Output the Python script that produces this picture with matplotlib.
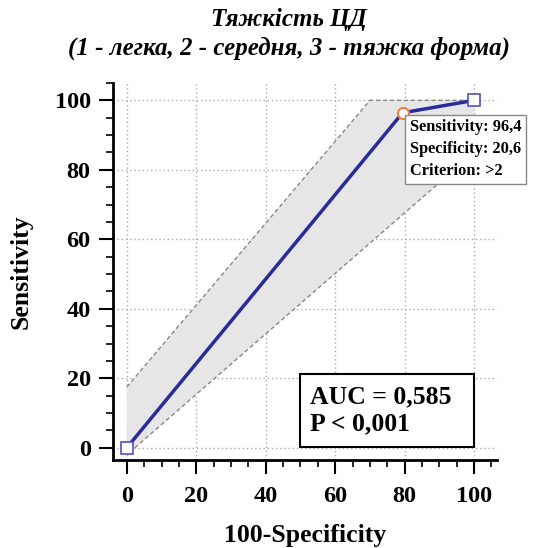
import matplotlib
matplotlib.use('Agg')
import matplotlib.pyplot as plt
from matplotlib.patches import Rectangle
from matplotlib.ticker import MultipleLocator

plt.rcParams['font.family'] = ['Liberation Serif', 'DejaVu Serif']
plt.rcParams['font.weight'] = 'bold'

# ROC curve points (100-Specificity, Sensitivity)
roc_x = [0, 79.4, 100]
roc_y = [0, 96.4, 100]

# 95% confidence band
upper_x = [0, 70, 100]
upper_y = [17.5, 100, 100]
lower_x = [2.3, 100]
lower_y = [0, 85]

title = 'Тяжкість ЦД\n(1 - легка, 2 - середня, 3 - тяжка форма)'
info = 'Sensitivity: 96,4\nSpecificity: 20,6\nCriterion: >2'
auc_text = 'AUC = 0,585\nP < 0,001'

fig = plt.figure(figsize=(5.35, 5.48), dpi=100)
ax = fig.add_axes([0.211, 0.1606, 0.718, 0.688])

# band polygon
poly_x = upper_x + lower_x[::-1] + [0]
poly_y = upper_y + lower_y[::-1] + [0]
ax.fill(poly_x, poly_y, color='#e6e6e6', zorder=1, lw=0)
ax.plot(upper_x, upper_y, ls=(0, (3, 2)), color='#888888', lw=1, zorder=2)
ax.plot(lower_x, lower_y, ls=(0, (3, 2)), color='#888888', lw=1, zorder=2)

ax.plot(roc_x, roc_y, color='#2a2a9a', lw=2.5, zorder=3)
ax.plot([roc_x[0], roc_x[-1]], [roc_y[0], roc_y[-1]], ls='none', marker='s', ms=8,
        mfc='white', mec='#5050c0', mew=1.2, zorder=4)
ax.plot([roc_x[1]], [roc_y[1]], ls='none', marker='o', ms=8,
        mfc='white', mec='#f08040', mew=1.5, zorder=4)

ax.set_xlim(-4, 106.6)
ax.set_ylim(-3.5, 105)
ax.xaxis.set_major_locator(MultipleLocator(20))
ax.yaxis.set_major_locator(MultipleLocator(20))
ax.xaxis.set_minor_locator(MultipleLocator(5))
ax.yaxis.set_minor_locator(MultipleLocator(5))
ax.grid(True, which='major', ls=(0, (1, 2)), color='#aaaaaa', lw=1, zorder=0)
ax.set_axisbelow(True)

for s in ['top', 'right']:
    ax.spines[s].set_visible(False)
for s in ['left', 'bottom']:
    ax.spines[s].set_linewidth(2)
ax.tick_params(which='major', length=10, width=1.5, labelsize=17.5)
ax.tick_params(axis='x', which='major', pad=9)
ax.tick_params(axis='y', which='major', pad=6)
ax.tick_params(which='minor', length=5, width=1.2)
for lbl in ax.get_xticklabels() + ax.get_yticklabels():
    lbl.set_fontweight('bold')

ax.set_xlabel('100-Specificity', fontsize=18.5, fontweight='bold', labelpad=12)
ax.set_ylabel('Sensitivity', fontsize=18.5, fontweight='bold', labelpad=16)

fig.text(0.54, 0.985, title, ha='center', va='top', fontsize=18,
         fontweight='bold', fontstyle='italic', linespacing=1.3)

ax.text(81.5, 94.5, info, ha='left', va='top', fontsize=11.8, fontweight='bold',
        linespacing=1.5, zorder=5,
        bbox=dict(boxstyle='square,pad=0.3', fc='white', ec='#888888', lw=1))

# AUC box
ax.add_patch(Rectangle((49.9, 0.3), 50.1, 21.0, fc='white', ec='black', lw=1.5, zorder=5))
ax.text(52.8, 10.8, auc_text, ha='left', va='center', fontsize=18.5, fontweight='bold',
        linespacing=1.25, zorder=6)

fig.savefig('out.png', dpi=100)
